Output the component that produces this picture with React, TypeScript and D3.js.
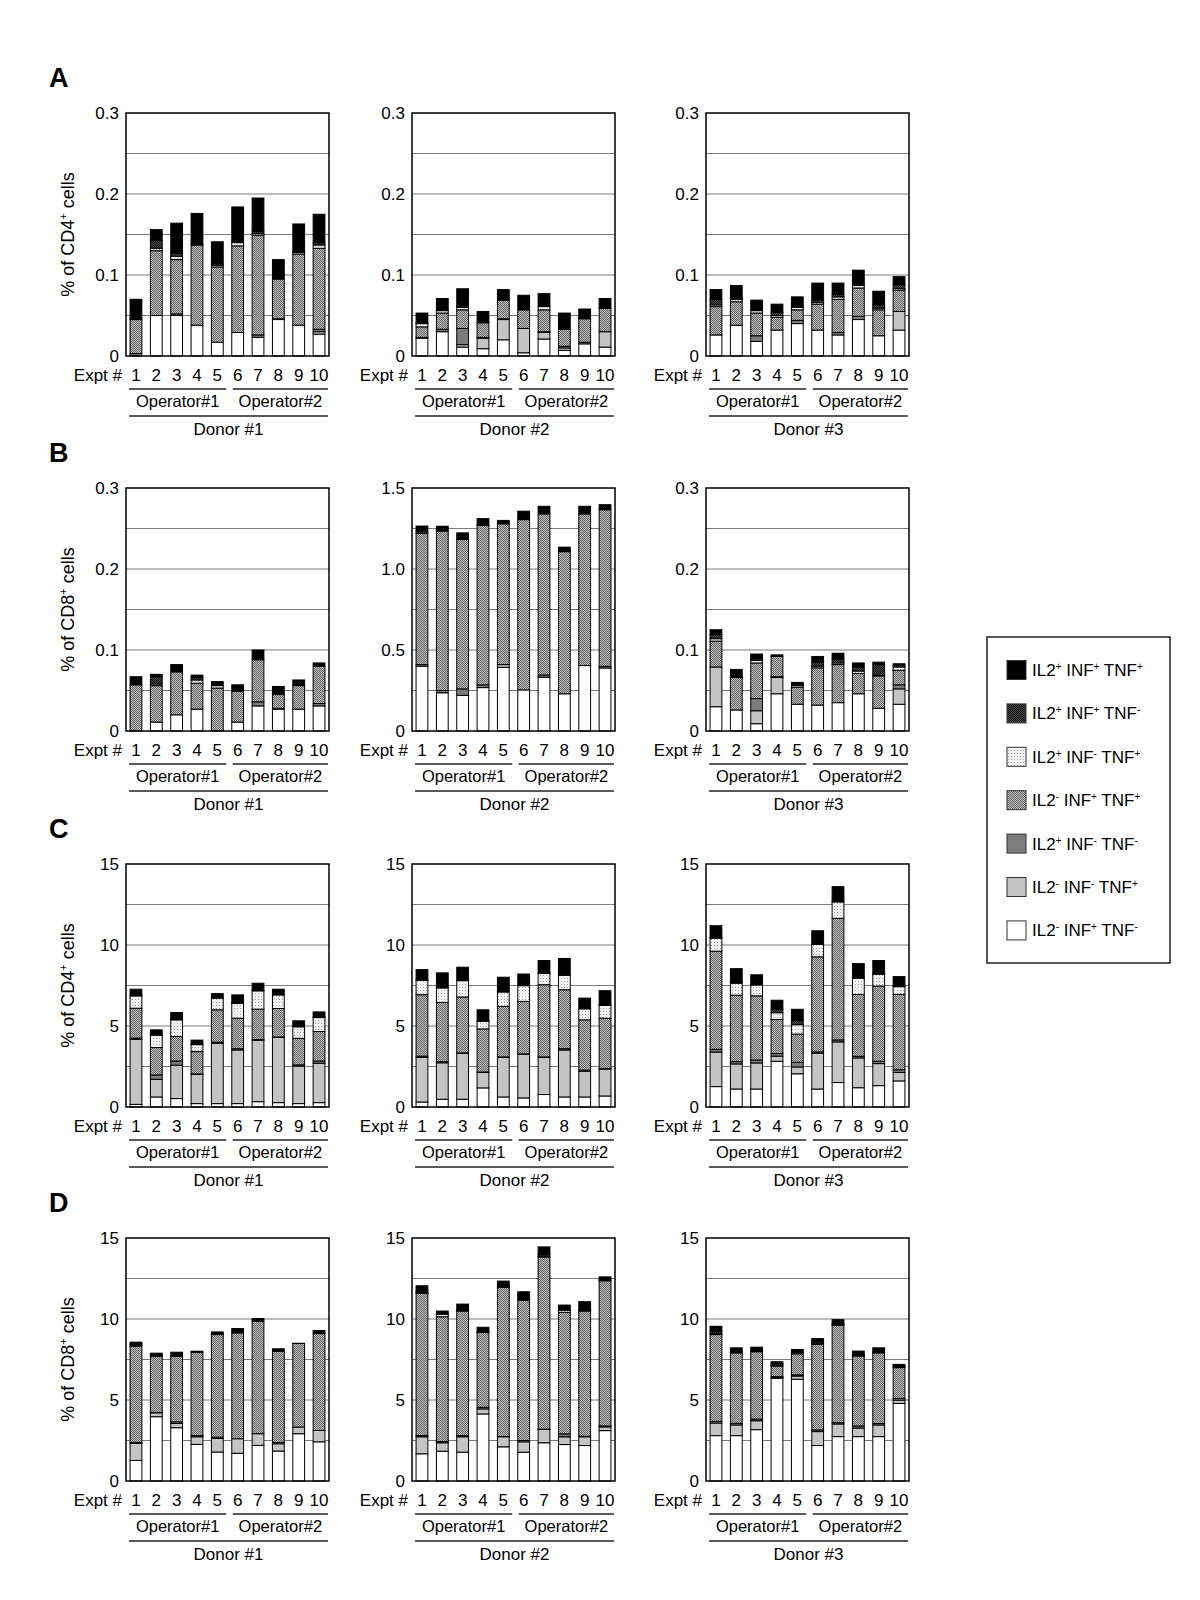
import React from "react";
import * as d3 from "d3";

// stack order bottom -> top
const KEYS = ["w", "lg", "mg", "hx", "dt", "dh", "bk"];

const EXPTS = ["1", "2", "3", "4", "5", "6", "7", "8", "9", "10"];
const OPERATORS = ["Operator#1", "Operator#2"];
const DONORS = ["Donor #1", "Donor #2", "Donor #3"];
const ROW_LETTERS = ["A", "B", "C", "D"];
const ROW_CELLS = ["CD4", "CD8", "CD4", "CD8"];

const TICKS_SMALL = [0, 0.1, 0.2, 0.3];
const TICKS_SMALL_LABELS = ["0", "0.1", "0.2", "0.3"];
const TICKS_MID = [0, 0.5, 1.0, 1.5];
const TICKS_MID_LABELS = ["0", "0.5", "1.0", "1.5"];
const TICKS_BIG = [0, 5, 10, 15];
const TICKS_BIG_LABELS = ["0", "5", "10", "15"];

// legend (top -> bottom)
const LEGEND_KEYS = ["bk", "dh", "dt", "hx", "mg", "lg", "w"];
const LEGEND_NAMES = ["IL2", "INF", "TNF"];
const LEGEND_SIGNS = [
  ["+", "+", "+"],
  ["+", "+", "-"],
  ["+", "-", "+"],
  ["-", "+", "+"],
  ["+", "-", "-"],
  ["-", "-", "+"],
  ["-", "+", "-"],
];

// ---------- data: panel A (CD4, low) ----------
const A1 = {
  w: [0, 0.05, 0.05, 0.038, 0.017, 0.029, 0.023, 0.045, 0.038, 0.027],
  lg: [0, 0, 0, 0, 0, 0, 0, 0, 0, 0.003],
  mg: [0.003, 0, 0.002, 0, 0, 0, 0.003, 0.001, 0, 0.003],
  hx: [0.042, 0.08, 0.067, 0.099, 0.093, 0.107, 0.123, 0.049, 0.088, 0.1],
  dt: [0, 0.003, 0.004, 0, 0.002, 0.004, 0.002, 0, 0.002, 0.004],
  dh: [0.001, 0.01, 0.004, 0.001, 0.002, 0.002, 0.003, 0, 0.001, 0.003],
  bk: [0.024, 0.013, 0.037, 0.038, 0.027, 0.042, 0.041, 0.024, 0.034, 0.035],
};
const A2 = {
  w: [0.022, 0.03, 0.011, 0.009, 0.02, 0.004, 0.021, 0.007, 0.015, 0.011],
  lg: [0, 0, 0.003, 0.013, 0.025, 0.03, 0.008, 0.003, 0, 0.019],
  mg: [0.001, 0.003, 0.02, 0.001, 0.001, 0, 0.001, 0.002, 0.002, 0],
  hx: [0.013, 0.02, 0.023, 0.018, 0.023, 0.023, 0.027, 0.021, 0.029, 0.029],
  dt: [0.004, 0.003, 0.003, 0, 0, 0, 0.004, 0, 0, 0],
  dh: [0.001, 0.001, 0.002, 0, 0, 0, 0, 0, 0, 0],
  bk: [0.012, 0.014, 0.021, 0.014, 0.013, 0.018, 0.016, 0.02, 0.012, 0.012],
};
const A3 = {
  w: [0.026, 0.038, 0.018, 0.032, 0.04, 0.032, 0.026, 0.045, 0.025, 0.032],
  lg: [0, 0, 0, 0, 0, 0, 0, 0, 0, 0.023],
  mg: [0, 0, 0.007, 0, 0.004, 0, 0.003, 0.004, 0, 0],
  hx: [0.035, 0.029, 0.028, 0.016, 0.013, 0.032, 0.041, 0.035, 0.032, 0.026],
  dt: [0.002, 0.003, 0.003, 0.002, 0.003, 0.002, 0.003, 0.003, 0.002, 0.002],
  dh: [0.007, 0.001, 0, 0.004, 0.002, 0.003, 0.003, 0.002, 0.004, 0.005],
  bk: [0.012, 0.016, 0.013, 0.01, 0.011, 0.021, 0.014, 0.017, 0.017, 0.01],
};
// ---------- panel B (CD8, low) ----------
const B1 = {
  w: [0, 0.011, 0.02, 0.027, 0, 0.011, 0.031, 0.027, 0.027, 0.031],
  lg: [0, 0, 0, 0, 0, 0, 0, 0, 0, 0],
  mg: [0, 0, 0, 0, 0, 0, 0.005, 0.001, 0, 0.003],
  hx: [0.057, 0.045, 0.053, 0.032, 0.053, 0.038, 0.052, 0.017, 0.029, 0.046],
  dt: [0, 0.002, 0, 0.004, 0.003, 0, 0, 0, 0, 0],
  dh: [0, 0.009, 0, 0.003, 0, 0, 0, 0, 0, 0],
  bk: [0.01, 0.003, 0.009, 0.003, 0.005, 0.008, 0.012, 0.01, 0.007, 0.004],
};
const B2 = {
  w: [0.4, 0.236, 0.22, 0.268, 0.393, 0.254, 0.332, 0.23, 0.404, 0.389],
  lg: [0, 0, 0, 0, 0.017, 0, 0, 0, 0, 0],
  mg: [0.01, 0.014, 0.04, 0.017, 0, 0, 0.014, 0, 0, 0.01],
  hx: [0.81, 0.984, 0.922, 0.985, 0.869, 1.051, 0.994, 0.877, 0.936, 0.967],
  dt: [0, 0, 0, 0, 0, 0, 0, 0, 0, 0],
  dh: [0.015, 0, 0, 0, 0, 0, 0, 0, 0, 0],
  bk: [0.03, 0.03, 0.041, 0.041, 0.021, 0.052, 0.047, 0.028, 0.047, 0.031],
};
const B3 = {
  w: [0.03, 0.026, 0.009, 0.046, 0.033, 0.032, 0.035, 0.046, 0.028, 0.033],
  lg: [0.049, 0, 0.016, 0.02, 0, 0, 0, 0, 0, 0.019],
  mg: [0, 0, 0.015, 0.001, 0, 0, 0, 0, 0, 0.005],
  hx: [0.032, 0.04, 0.044, 0.025, 0.021, 0.046, 0.047, 0.025, 0.04, 0.018],
  dt: [0.003, 0.001, 0.003, 0, 0.002, 0.002, 0.002, 0.003, 0.001, 0.004],
  dh: [0.005, 0, 0.002, 0, 0.002, 0.005, 0.005, 0.005, 0.013, 0.002],
  bk: [0.006, 0.009, 0.006, 0.002, 0.002, 0.007, 0.007, 0.005, 0.003, 0.002],
};
// ---------- panel C (CD4, high) ----------
const C1 = {
  w: [0.16, 0.62, 0.52, 0.21, 0.21, 0.21, 0.33, 0.27, 0.21, 0.27],
  lg: [4.02, 1.09, 2.06, 1.81, 3.73, 3.31, 3.79, 4.02, 2.32, 2.43],
  mg: [0.07, 0.27, 0.26, 0.02, 0.06, 0.08, 0.04, 0.03, 0.07, 0.14],
  hx: [1.85, 1.69, 1.51, 1.38, 2.0, 1.88, 1.88, 1.76, 1.64, 1.82],
  dt: [0.76, 0.76, 1.03, 0.43, 0.72, 0.91, 1.13, 0.84, 0.71, 0.86],
  dh: [0.05, 0.05, 0.05, 0.03, 0.04, 0.05, 0.04, 0.03, 0.04, 0.04],
  bk: [0.36, 0.28, 0.4, 0.25, 0.24, 0.48, 0.43, 0.32, 0.33, 0.31],
};
const C2 = {
  w: [0.31, 0.48, 0.48, 1.18, 0.62, 0.56, 0.77, 0.62, 0.62, 0.68],
  lg: [2.75, 2.25, 2.83, 0.95, 2.44, 2.69, 2.29, 2.9, 1.59, 1.66],
  mg: [0.08, 0.07, 0.03, 0.03, 0.03, 0.03, 0.03, 0.08, 0.07, 0.03],
  hx: [3.79, 3.66, 3.45, 2.66, 3.12, 3.24, 4.46, 3.64, 3.1, 3.11],
  dt: [0.89, 0.89, 1.01, 0.46, 0.89, 0.97, 0.69, 0.89, 0.68, 0.79],
  dh: [0.05, 0.05, 0.04, 0.03, 0.04, 0.04, 0.04, 0.04, 0.03, 0.03],
  bk: [0.61, 0.88, 0.79, 0.69, 0.87, 0.68, 0.76, 1.0, 0.63, 0.88],
};
const C3 = {
  w: [1.26, 1.11, 1.11, 2.82, 2.05, 1.11, 1.51, 1.19, 1.32, 1.61],
  lg: [2.13, 1.55, 1.61, 0.32, 0.42, 2.2, 2.51, 1.84, 1.36, 0.52],
  mg: [0.17, 0.14, 0.18, 0.16, 0.29, 0.09, 0.12, 0.1, 0.14, 0.17],
  hx: [6.06, 4.1, 3.96, 2.1, 1.74, 5.87, 7.51, 3.82, 4.65, 4.65],
  dt: [0.8, 0.74, 0.67, 0.42, 0.58, 0.77, 1.01, 1.0, 0.73, 0.48],
  dh: [0.05, 0.05, 0.03, 0.21, 0.25, 0.05, 0.05, 0.05, 0.05, 0.05],
  bk: [0.72, 0.85, 0.6, 0.56, 0.7, 0.79, 0.89, 0.85, 0.79, 0.57],
};
// ---------- panel D (CD8, high) ----------
const D1 = {
  w: [1.27, 3.97, 3.29, 2.26, 1.79, 1.71, 2.2, 1.85, 2.92, 2.42],
  lg: [1.05, 0.24, 0.26, 0.47, 0.84, 0.9, 0.72, 0.45, 0.41, 0.7],
  mg: [0.06, 0.02, 0.1, 0.07, 0.07, 0, 0, 0.08, 0, 0],
  hx: [5.94, 3.47, 4.05, 5.15, 6.34, 6.53, 6.94, 5.63, 5.16, 5.98],
  dt: [0.05, 0.03, 0, 0, 0, 0, 0, 0, 0, 0],
  dh: [0.08, 0.08, 0.05, 0, 0, 0, 0, 0, 0, 0],
  bk: [0.12, 0.08, 0.2, 0.06, 0.16, 0.27, 0.17, 0.15, 0.01, 0.19],
};
const D2 = {
  w: [1.68, 1.84, 1.78, 4.14, 2.11, 1.78, 2.36, 2.25, 2.19, 3.11],
  lg: [1.05, 0.52, 0.95, 0.31, 0.62, 0.64, 0.82, 0.48, 0.54, 0.23],
  mg: [0.07, 0.07, 0.07, 0.1, 0.02, 0.08, 0.02, 0.18, 0.03, 0.06],
  hx: [8.78, 7.71, 7.69, 4.63, 9.2, 8.67, 10.63, 7.5, 7.73, 8.96],
  dt: [0.05, 0.15, 0, 0, 0.05, 0, 0.05, 0.12, 0.05, 0],
  dh: [0.1, 0.05, 0.05, 0.05, 0.05, 0.05, 0.1, 0.05, 0.07, 0.05],
  bk: [0.32, 0.15, 0.38, 0.26, 0.29, 0.46, 0.47, 0.28, 0.46, 0.19],
};
const D3 = {
  w: [2.8, 2.8, 3.17, 6.34, 6.28, 2.19, 2.74, 2.74, 2.74, 4.79],
  lg: [0.78, 0.66, 0.55, 0.05, 0.2, 0.86, 0.78, 0.53, 0.72, 0.2],
  mg: [0.1, 0.1, 0.1, 0.05, 0.07, 0.1, 0.08, 0.13, 0.09, 0.11],
  hx: [5.36, 4.35, 4.16, 0.66, 1.3, 5.28, 6.01, 4.31, 4.36, 1.9],
  dt: [0.05, 0.04, 0, 0.05, 0.05, 0.07, 0.05, 0.04, 0, 0.05],
  dh: [0.15, 0.05, 0.04, 0.1, 0.05, 0.1, 0.05, 0.05, 0.05, 0.05],
  bk: [0.31, 0.22, 0.24, 0.11, 0.17, 0.19, 0.25, 0.22, 0.26, 0.1],
};

const PANELS = [
  [A1, A2, A3],
  [B1, B2, B3],
  [C1, C2, C3],
  [D1, D2, D3],
];
const SCALES = [
  [[TICKS_SMALL, TICKS_SMALL_LABELS], [TICKS_SMALL, TICKS_SMALL_LABELS], [TICKS_SMALL, TICKS_SMALL_LABELS]],
  [[TICKS_SMALL, TICKS_SMALL_LABELS], [TICKS_MID, TICKS_MID_LABELS], [TICKS_SMALL, TICKS_SMALL_LABELS]],
  [[TICKS_BIG, TICKS_BIG_LABELS], [TICKS_BIG, TICKS_BIG_LABELS], [TICKS_BIG, TICKS_BIG_LABELS]],
  [[TICKS_BIG, TICKS_BIG_LABELS], [TICKS_BIG, TICKS_BIG_LABELS], [TICKS_BIG, TICKS_BIG_LABELS]],
];

// ---------- layout ----------
const COL_X = [126, 412, 706];
const ROW_Y = [113, 488, 864, 1238];
const PW = 203;
const PH = 243;
const FONT = "'Liberation Sans', Arial, Helvetica, sans-serif";

const FILL: Record<string, string> = {
  w: "#ffffff",
  lg: "#c4c4c4",
  mg: "#7c7c7c",
  hx: "url(#pHx)",
  dt: "url(#pDt)",
  dh: "url(#pDh)",
  bk: "#000000",
};

function Panel({ data, ticks, labels, x0, y0, donor, row, col }: any) {
  const max = ticks[ticks.length - 1];
  const y = d3.scaleLinear().domain([0, max]).range([y0 + PH, y0]);
  const x = d3.scaleBand().domain(EXPTS).range([x0, x0 + PW]).paddingInner(0.42).paddingOuter(0.2);
  const bw = x.bandwidth();
  const rowsData = EXPTS.map((e, i) => {
    const o: any = { e };
    KEYS.forEach((k) => (o[k] = data[k][i]));
    return o;
  });
  const stacked = d3.stack().keys(KEYS)(rowsData);
  const grid = d3.range(1, 6).map((i) => (max * i) / 6);
  const bottom = y0 + PH;
  const xs = (i: number) => x(EXPTS[i]) as number;
  const op1 = [xs(0) - 1, xs(4) + bw + 3];
  const op2 = [xs(5) + 1, xs(9) + bw + 3];
  return (
    <g>
      {grid.map((g, i) => (
        <line key={i} x1={x0} x2={x0 + PW} y1={y(g)} y2={y(g)} stroke="#7a7a7a" strokeWidth={1} />
      ))}
      {stacked.map((s: any) => (
        <g key={s.key}>
          {s.map((d: any, i: number) =>
            d[1] - d[0] > 0 ? (
              <rect
                key={i}
                x={xs(i)}
                width={bw}
                y={y(d[1])}
                height={y(d[0]) - y(d[1])}
                fill={FILL[s.key]}
                stroke="#000"
                strokeWidth={1}
              />
            ) : null
          )}
        </g>
      ))}
      <rect x={x0} y={y0} width={PW} height={PH} fill="none" stroke="#000" strokeWidth={1.5} />
      {ticks.map((t: number, i: number) => (
        <text key={i} x={x0 - 7} y={y(t)} dy="0.36em" textAnchor="end" fontSize={17}>
          {labels[i]}
        </text>
      ))}
      <text x={x0 - 4} y={bottom + 25} textAnchor="end" fontSize={17}>
        Expt #
      </text>
      {EXPTS.map((e, i) => (
        <text key={e} x={xs(i) + bw / 2} y={bottom + 25} textAnchor="middle" fontSize={17}>
          {e}
        </text>
      ))}
      <line x1={op1[0]} x2={op1[1]} y1={bottom + 33} y2={bottom + 33} stroke="#222" strokeWidth={1.5} />
      <line x1={op2[0]} x2={op2[1]} y1={bottom + 33} y2={bottom + 33} stroke="#222" strokeWidth={1.5} />
      <text x={(op1[0] + op1[1]) / 2} y={bottom + 51} textAnchor="middle" fontSize={16.5}>
        {OPERATORS[0]}
      </text>
      <text x={(op2[0] + op2[1]) / 2} y={bottom + 51} textAnchor="middle" fontSize={16.5}>
        {OPERATORS[1]}
      </text>
      <line x1={op1[0]} x2={op2[1]} y1={bottom + 60} y2={bottom + 60} stroke="#222" strokeWidth={1.5} />
      <text x={(op1[0] + op2[1]) / 2} y={bottom + 79} textAnchor="middle" fontSize={17}>
        {donor}
      </text>
    </g>
  );
}

export default function App() {
  return (
    <svg
      width={1200}
      height={1600}
      style={{ position: "absolute", left: 0, top: 0 }}
      fontFamily={FONT}
    >
      <defs>
        <pattern id="pHx" width={2} height={2} patternUnits="userSpaceOnUse">
          <rect width={2} height={2} fill="#bdbdbd" />
          <rect width={1} height={1} fill="#666" />
          <rect x={1} y={1} width={1} height={1} fill="#666" />
        </pattern>
        <pattern id="pDh" width={2} height={2} patternUnits="userSpaceOnUse">
          <rect width={2} height={2} fill="#4a4a4a" />
          <rect width={1} height={1} fill="#141414" />
          <rect x={1} y={1} width={1} height={1} fill="#141414" />
        </pattern>
        <pattern id="pDt" width={3} height={3} patternUnits="userSpaceOnUse">
          <rect width={3} height={3} fill="#fafafa" />
          <rect width={1} height={1} fill="#a0a0a0" />
          <rect x={1.5} y={1.5} width={1} height={1} fill="#cfcfcf" />
        </pattern>
      </defs>
      <rect width={1200} height={1600} fill="#fff" />
      {PANELS.map((row, r) => (
        <g key={r}>
          <text x={49} y={ROW_Y[r] - 26} fontSize={27} fontWeight="bold">
            {ROW_LETTERS[r]}
          </text>
          <text
            transform={`translate(74,${ROW_Y[r] + PH / 2}) rotate(-90)`}
            textAnchor="middle"
            fontSize={18}
          >
            <tspan>{"% of " + ROW_CELLS[r]}</tspan>
            <tspan fontSize={11} dy={-7}>
              +
            </tspan>
            <tspan dy={7}>{" cells"}</tspan>
          </text>
          {row.map((data, c) => (
            <Panel
              key={c}
              data={data}
              ticks={SCALES[r][c][0]}
              labels={SCALES[r][c][1]}
              x0={COL_X[c]}
              y0={ROW_Y[r]}
              donor={DONORS[c]}
              row={r}
              col={c}
            />
          ))}
        </g>
      ))}
      <g>
        <rect x={987} y={637} width={183} height={326} fill="#fff" stroke="#222" strokeWidth={1.5} />
        {LEGEND_KEYS.map((k, i) => {
          const cy = 670 + i * 43.4;
          return (
            <g key={k}>
              <rect x={1007} y={cy - 9.5} width={19} height={19} fill={FILL[k]} stroke="#333" strokeWidth={1} />
              <text x={1032} y={cy + 6} fontSize={17}>
                {LEGEND_NAMES.map((n, j) => (
                  <React.Fragment key={j}>
                    <tspan dy={j === 0 ? 0 : 6}>{(j === 0 ? "" : " ") + n}</tspan>
                    <tspan fontSize={10} dy={-6}>
                      {LEGEND_SIGNS[i][j]}
                    </tspan>
                  </React.Fragment>
                ))}
              </text>
            </g>
          );
        })}
      </g>
    </svg>
  );
}
